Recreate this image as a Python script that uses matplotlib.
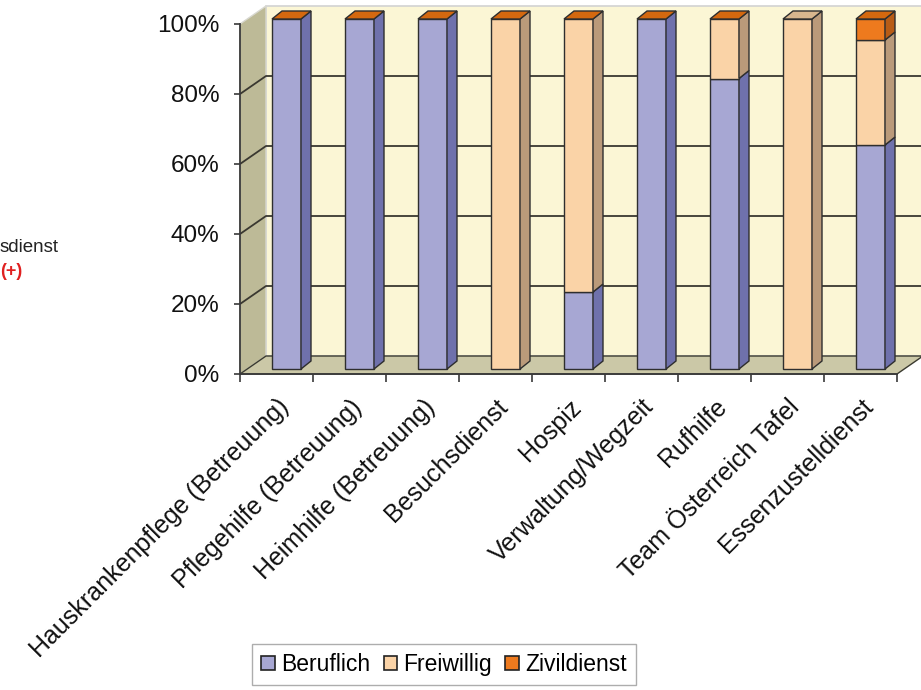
import numpy as np
import matplotlib.pyplot as plt
from matplotlib.patches import Polygon, Patch

plt.rcParams['font.family'] = ['Liberation Sans', 'DejaVu Sans']

categories = ['Hauskrankenpflege (Betreuung)', 'Pflegehilfe (Betreuung)', 'Heimhilfe (Betreuung)',
              'Besuchsdienst', 'Hospiz', 'Verwaltung/Wegzeit', 'Rufhilfe',
              'Team Österreich Tafel', 'Essenzustelldienst']
beruflich = [100, 100, 100, 0, 22, 100, 83, 0, 64]
freiwillig = [0, 0, 0, 100, 78, 0, 17, 100, 30]
zivildienst = [0, 0, 0, 0, 0, 0, 0, np.nan, 6]
series = ['Beruflich', 'Freiwillig', 'Zivildienst']
yticks = [0, 20, 40, 60, 80, 100]

# front, side, top colours per series
front_c = ['#A7A7D3', '#FAD3A7', '#EE7A1E']
side_c = ['#6F71AC', '#BA9A7A', '#B85C16']
top_c = ['#8C8CC4', '#D8B68E', '#D4680F']

fig = plt.figure(figsize=(9.21, 6.90), dpi=100)
ax = fig.add_axes([240 / 921, (690 - 374) / 690, 657 / 921, 350 / 690])
ax.set_xlim(0, 9)
ax.set_ylim(0, 100)

# pixel -> data helpers (73 px per category, 3.5 px per %)
def px(dx, dy):
    return dx / 73.0, dy / 3.5

wdx, wdy = px(26, 18)      # wall depth
fdx, fdy = px(10, 5)       # bar front plane offset
bdx, bdy = px(10, 8)       # bar depth
bw = 29 / 73.0
n = len(categories)

def poly(pts, fc, ec='none', lw=0.0, z=1):
    p = Polygon(pts, closed=True, facecolor=fc, edgecolor=ec, lw=lw, zorder=z, clip_on=False)
    ax.add_patch(p)

# walls and floor
poly([(wdx, wdy), (n + wdx, wdy), (n + wdx, 100 + wdy), (wdx, 100 + wdy)], '#FBF6D5', '#D2D2D2', 1.2, 0)
poly([(0, 0), (wdx, wdy), (wdx, 100 + wdy), (0, 100)], '#BDBA97', '#D8D8D0', 1.0, 0.5)
poly([(0, 0), (n, 0), (n + wdx, wdy), (wdx, wdy)], '#CBC8A7', '#3A3A30', 1.0, 0.6)

for v in yticks[1:-1]:
    ax.plot([0, wdx, n + wdx], [v, v + wdy, v + wdy], color='#3A3830', lw=1.3, zorder=0.7,
            clip_on=False, solid_capstyle='butt')

# stacked 3D bars
data = [beruflich, freiwillig, zivildienst]
for i in range(n):
    x0 = i + 0.5 - bw / 2 + fdx
    x1 = x0 + bw
    bottom = fdy
    top_idx = None
    for s in range(3):
        val = data[s][i]
        if np.isnan(val):
            continue
        top_idx = s
        if val <= 0:
            continue
        b, t = bottom, bottom + val
        ax.bar(x0, val, width=bw, bottom=b, align='edge', color=front_c[s],
               edgecolor='#2E2E2E', lw=1.0, zorder=3, clip_on=False)
        poly([(x1, b), (x1 + bdx, b + bdy), (x1 + bdx, t + bdy), (x1, t)],
             side_c[s], '#2E2E2E', 1.0, 3)
        bottom = t
    poly([(x0, bottom), (x1, bottom), (x1 + bdx, bottom + bdy), (x0 + bdx, bottom + bdy)],
         top_c[top_idx], '#2E2E2E', 1.0, 3.5)

# axes styling
for side in ['top', 'right']:
    ax.spines[side].set_visible(False)
for side in ['left', 'bottom']:
    ax.spines[side].set_color('#3A3A3A')
    ax.spines[side].set_linewidth(1.3)
    ax.spines[side].set_zorder(2)
ax.set_facecolor('none')

ax.set_yticks(yticks)
ax.set_yticklabels([f'{v}%' for v in yticks], fontsize=17.5, color='#111111')
ax.tick_params(axis='y', direction='out', length=4, width=1.2, color='#3A3A3A', pad=11)

ax.set_xticks(np.arange(n + 1))
ax.set_xticklabels([])
ax.tick_params(axis='x', which='major', direction='out', length=6, width=1.2, color='#3A3A3A')
ax.set_xticks(np.arange(n) + 0.5, minor=True)
ax.set_xticklabels(categories, minor=True, fontsize=18, rotation=45, ha='right',
                   rotation_mode='anchor', color='#111111')
ax.tick_params(axis='x', which='minor', length=0, pad=15)

# legend
handles = [Patch(facecolor=front_c[s], edgecolor='#222222', lw=1.2) for s in range(3)]
fig.legend(handles, series, loc='upper left', bbox_to_anchor=(252 / 921, 1 - 644 / 690),
           ncol=3, fontsize=16.5, frameon=True, fancybox=False, edgecolor='#999999',
           handlelength=0.6, handleheight=0.6, handletextpad=0.25, columnspacing=0.6,
           borderpad=0.4, borderaxespad=0)

# cropped annotation on the left
fig.text(0, 1 - 248 / 690, 'sdienst', fontsize=13.5, color='#222222', va='center', ha='left')
fig.text(0, 1 - 272 / 690, '(+)', fontsize=13, color='#E02020', fontweight='bold',
         va='center', ha='left')

fig.savefig('out.png', dpi=100)
